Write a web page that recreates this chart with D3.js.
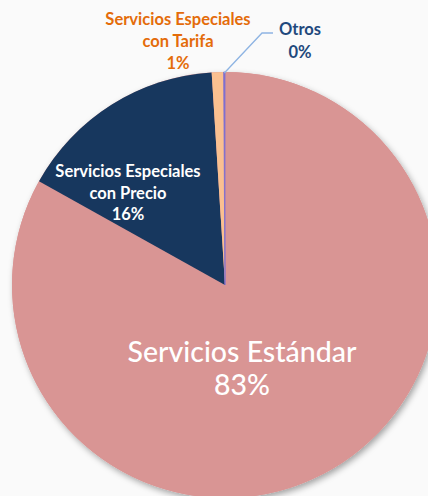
<!DOCTYPE html>
<html>
<head>
<meta charset="utf-8">
<script src="https://cdn.jsdelivr.net/npm/d3@7"></script>
<style>
  html, body { margin: 0; padding: 0; background: #fafafa; }
  svg { display: block; }
  text { font-family: Lato, "Open Sans", sans-serif; }
</style>
</head>
<body>
<div id="chart"></div>
<script>
// slice data, clockwise from 12 o'clock
const categories = ['Servicios Estándar', 'Servicios Especiales con Precio', 'Servicios Especiales con Tarifa', 'Otros'];
const shares = [83.1, 15.9, 0.9, 0.1];
const percentLabels = ['83%', '16%', '1%', '0%'];

const width = 428, height = 496;
const cx = 225, cy = 285, radius = 213;

const colorScale = d3.scaleOrdinal()
    .domain(categories)
    .range(['#d99594', '#17375e', '#fac090', '#7f6fd0']);

// label text lines and where they sit
const labelLayout = [
    {lines: ['Servicios Estándar'], x: 242, y: 362, size: 28.5, weight: 500, fill: '#ffffff', lh: 33},
    {lines: ['Servicios Especiales', 'con Precio'], x: 128, y: 177, size: 16.5, weight: 700, fill: '#ffffff', lh: 21.5},
    {lines: ['Servicios Especiales', 'con Tarifa'], x: 178, y: 25, size: 16.5, weight: 700, fill: '#e46c0a', lh: 22},
    {lines: ['Otros'], x: 300, y: 35, size: 16.5, weight: 700, fill: '#1f497d', lh: 23}
];

let svg = d3.select('#chart')
    .append('svg')
    .attr('width', width)
    .attr('height', height);

svg.append('rect').attr('width', width).attr('height', height).attr('fill', '#fafafa');

let defs = svg.append('defs');
let shadow = defs.append('filter')
    .attr('id', 'shadow')
    .attr('x', '-20%').attr('y', '-20%')
    .attr('width', '140%').attr('height', '140%');
shadow.append('feDropShadow')
    .attr('dx', 2).attr('dy', 3)
    .attr('stdDeviation', 3)
    .attr('flood-color', '#000')
    .attr('flood-opacity', 0.35);

let g = svg.append('g')
    .attr('transform', 'translate(' + cx + ',' + cy + ')');

let pieGen = d3.pie().sort(null).value(d => d);
let arc = d3.arc().innerRadius(0).outerRadius(radius);
let pie = pieGen(shares);

// shadow under the whole pie
g.append('circle')
    .attr('r', radius)
    .attr('fill', '#d99594')
    .attr('filter', 'url(#shadow)');

g.append('g')
    .attr('class', 'slices')
    .selectAll('path')
    .data(pie)
    .enter()
    .append('path')
    .attr('d', arc)
    .attr('fill', (d, i) => colorScale(categories[i]))
    .attr('stroke', (d, i) => i === 3 ? colorScale(categories[i]) : 'none')
    .attr('stroke-width', 0.8);

// leader line for "Otros"
let otros = pie[3];
let edge = d3.arc().innerRadius(radius).outerRadius(radius).centroid(otros);
g.append('polyline')
    .attr('points', [[edge[0], edge[1] + 1], [262 - cx, 33 - cy], [273 - cx, 33 - cy]])
    .attr('fill', 'none')
    .attr('stroke', '#8eb4e3')
    .attr('stroke-width', 1.3);

// labels
labelLayout.forEach((lab, i) => {
    let t = svg.append('text')
        .attr('text-anchor', 'middle')
        .attr('font-size', lab.size)
        .attr('font-weight', lab.weight)
        .attr('fill', lab.fill);
    let lines = lab.lines.concat([percentLabels[i]]);
    lines.forEach((ln, k) => {
        t.append('tspan')
            .attr('x', lab.x)
            .attr('y', lab.y + k * lab.lh)
            .text(ln);
    });
});
</script>
</body>
</html>
